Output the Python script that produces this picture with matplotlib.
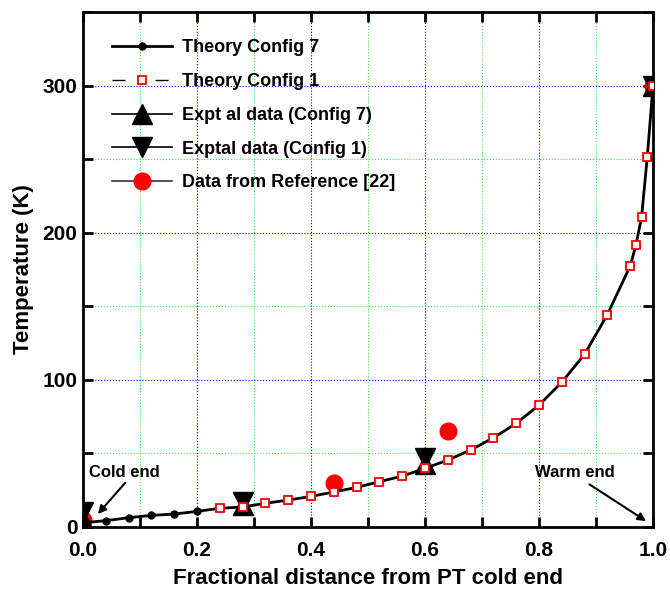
import matplotlib
matplotlib.use("Agg")
import matplotlib.pyplot as plt
from matplotlib.lines import Line2D
from matplotlib.ticker import MultipleLocator, FormatStrFormatter

plt.rcParams['font.family'] = ['Liberation Sans', 'DejaVu Sans']
plt.rcParams['font.weight'] = 'bold'

# theory curves
x_th7 = [0.0, 0.04, 0.08, 0.12, 0.16, 0.20, 0.24, 0.28, 0.32, 0.36, 0.40, 0.44,
         0.48, 0.52, 0.56, 0.60, 0.64, 0.68, 0.72, 0.76, 0.80, 0.84, 0.88, 0.92,
         0.96, 0.97, 0.98, 0.99, 1.0]
t_th7 = [2.9, 4.3, 6.3, 7.9, 8.8, 10.6, 12.7, 13.6, 16.1, 18.3, 20.8, 23.8,
         26.9, 30.8, 34.6, 39.8, 45.5, 52.3, 60.6, 70.4, 82.8, 98.4, 117.4, 144.4,
         177.4, 191.4, 210.7, 251.4, 300.0]
x_th1 = [0.24, 0.28, 0.32, 0.36, 0.40, 0.44, 0.48, 0.52, 0.56, 0.60, 0.64, 0.68,
         0.72, 0.76, 0.80, 0.84, 0.88, 0.92, 0.96, 0.97, 0.98, 0.99, 1.0]
t_th1 = [12.7, 13.6, 16.1, 18.3, 20.8, 23.8, 26.9, 30.8, 34.6, 39.8, 45.5, 52.3,
         60.6, 70.4, 82.8, 98.4, 117.4, 144.4, 177.4, 191.4, 210.7, 251.4, 300.0]

# experimental points
x_exp7 = [0.0, 0.28, 0.60, 1.0]
t_exp7 = [5.0, 15.0, 43.0, 300.0]
x_exp1 = [0.0, 0.28, 0.60, 1.0]
t_exp1 = [10.0, 17.0, 47.0, 300.0]

# reference [22]
x_ref = [0.0, 0.44, 0.64, 1.0]
t_ref = [5.0, 30.0, 65.0, 300.0]

dash1 = (0, (9.4, 21.6))

fig = plt.figure(figsize=(6.7, 5.92), dpi=100)
ax = fig.add_axes([0.1239, 0.1098, 0.8507, 0.8699])

ax.plot(x_exp7, t_exp7, ls='none', marker='^', ms=14, color='black', zorder=3)
ax.plot(x_exp1, t_exp1, ls='none', marker='v', ms=14, color='black', zorder=3)
ax.plot(x_ref, t_ref, ls='none', marker='o', ms=12, color='red', zorder=2)
ax.plot(x_th7, t_th7, '-', color='black', lw=2, marker='o', ms=5, zorder=4)
ax.plot(x_th1, t_th1, ls=dash1, color='black', lw=1, marker='s', ms=6,
        mfc='white', mec='red', mew=1.3, zorder=5)

ax.set_xlim(0, 1)
ax.set_ylim(0, 350)
ax.xaxis.set_major_locator(MultipleLocator(0.2))
ax.xaxis.set_minor_locator(MultipleLocator(0.1))
ax.yaxis.set_major_locator(MultipleLocator(100))
ax.yaxis.set_minor_locator(MultipleLocator(50))
ax.xaxis.set_major_formatter(FormatStrFormatter('%.1f'))

ax.grid(which='major', color='blue', ls=':', lw=0.8)
ax.grid(which='minor', color='#33ee33', ls=':', lw=0.8)
ax.set_axisbelow(True)

for s in ax.spines.values():
    s.set_linewidth(2)
ax.tick_params(which='both', direction='in', top=True, right=True,
               length=7, width=2, labelsize=15)
ax.tick_params(axis='x', pad=10)
ax.tick_params(axis='y', pad=4)

ax.set_xlabel('Fractional distance from PT cold end', fontsize=16,
              fontweight='bold', labelpad=6)
ax.set_ylabel('Temperature (K)', fontsize=16, fontweight='bold', labelpad=6)

ax.annotate('Cold end', xy=(0.026, 8.8), xytext=(0.01, 37), fontsize=12,
            fontweight='bold', ha='left', va='center',
            arrowprops=dict(arrowstyle='-|>', color='black', lw=1.5,
                            shrinkA=0, shrinkB=0, relpos=(0.55, 0.0)))
ax.annotate('Warm end', xy=(0.988, 4), xytext=(0.863, 37), fontsize=12,
            fontweight='bold', ha='center', va='center',
            arrowprops=dict(arrowstyle='-|>', color='black', lw=1.5,
                            shrinkA=2, shrinkB=0, relpos=(0.6, 0.0)))

handles = [
    Line2D([], [], color='black', lw=2, marker='o', ms=5),
    Line2D([], [], color='black', lw=1, ls=dash1, marker='s', ms=6,
           mfc='white', mec='red', mew=1.3),
    Line2D([], [], color='black', lw=1.2, marker='^', ms=14),
    Line2D([], [], color='black', lw=1.2, marker='v', ms=14),
    Line2D([], [], color='#333333', lw=1.2, marker='o', ms=12, mfc='red', mec='red'),
]
labels = ['Theory Config 7', 'Theory Config 1', 'Expt al data (Config 7)',
          'Exptal data (Config 1)', 'Data from Reference [22]']
ax.legend(handles, labels, loc='upper left', bbox_to_anchor=(0.051, 0.947),
          frameon=False, borderaxespad=0, borderpad=0,
          handlelength=3.3, handletextpad=0.55, labelspacing=0.93,
          prop={'weight': 'bold', 'size': 13})

fig.savefig('out.png', dpi=100)
